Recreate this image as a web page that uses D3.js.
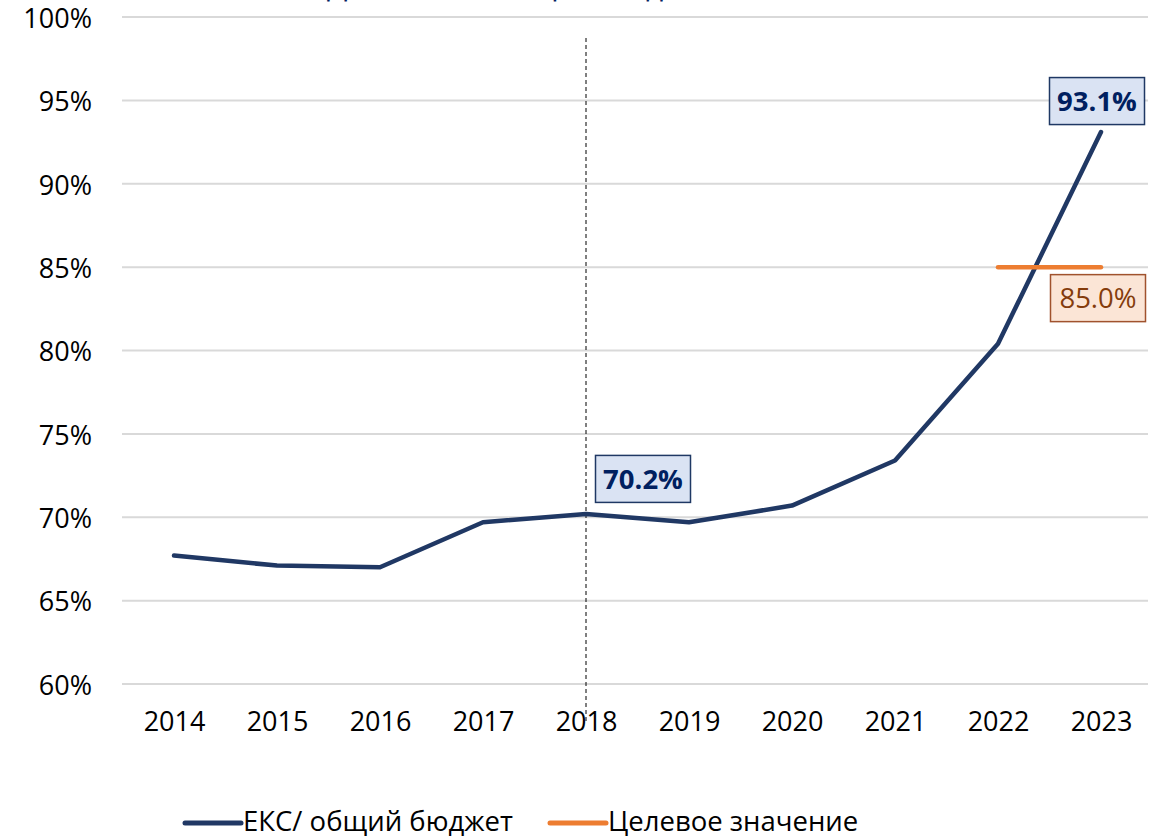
<!DOCTYPE html>
<html><head><meta charset="utf-8">
<script src="https://cdn.jsdelivr.net/npm/d3@7"></script>
<style>body{margin:0;background:#fff}svg{display:block}text{font-family:"Open Sans",sans-serif}</style>
</head><body>
<script>
const years = ["2014","2015","2016","2017","2018","2019","2020","2021","2022","2023"];
const eksShare = [67.7, 67.1, 67.0, 69.7, 70.2, 69.7, 70.7, 73.4, 80.4, 93.1];
const targetYears = ["2022","2023"];
const targetValues = [85.0, 85.0];
const yTicks = [60,65,70,75,80,85,90,95,100];
const seriesNames = ["ЕКС/ общий бюджет","Целевое значение"];
const titleText = "Доля ЕКС в общем бюджете";

const W=1164,H=839;
const svg=d3.select("body").append("svg").attr("width",W).attr("height",H);
const x=d3.scalePoint().domain(years).range([174,1101]);
const y=d3.scaleLinear().domain([60,100]).range([684,17]);
const navy="#203864", orange="#ed7d31";

// title (mostly outside top edge, as in the reference)
svg.append("text").attr("x",530).attr("y",-4).attr("text-anchor","middle")
  .attr("font-size",30).attr("font-weight","normal").attr("fill","#002060").text(titleText);

// gridlines
svg.append("g").selectAll("line").data(yTicks).join("line")
  .attr("x1",122).attr("x2",1148).attr("y1",d=>y(d)).attr("y2",d=>y(d))
  .attr("stroke","#d9d9d9").attr("stroke-width",2);

// y axis
const ya=svg.append("g").attr("transform","translate(92,0)")
  .call(d3.axisLeft(y).tickValues(yTicks).tickFormat(d=>d+"%").tickSize(0).tickPadding(0));
ya.select(".domain").remove();
ya.selectAll("text").attr("font-size",27).attr("fill","#000").attr("font-family","Open Sans, sans-serif").attr("dy","0.38em");

// x axis
const xa=svg.append("g").attr("transform","translate(0,722)")
  .call(d3.axisBottom(x).tickSize(0).tickPadding(0));
xa.select(".domain").remove();
xa.selectAll("text").attr("font-size",27).attr("fill","#000").attr("font-family","Open Sans, sans-serif").attr("dy","0.35em");

// dashed vertical at 2018
svg.append("line").attr("x1",x("2018")).attr("x2",x("2018")).attr("y1",38).attr("y2",722)
  .attr("stroke","#000").attr("stroke-width",1).attr("stroke-dasharray","4,3");

// main line
const line=d3.line().x(d=>x(d[0])).y(d=>y(d[1]));
svg.append("path").datum(years.map((yr,i)=>[yr,eksShare[i]])).attr("d",line)
  .attr("fill","none").attr("stroke",navy).attr("stroke-width",4.5)
  .attr("stroke-linecap","round").attr("stroke-linejoin","round");

// target line
svg.append("path").datum(targetYears.map((yr,i)=>[yr,targetValues[i]])).attr("d",line)
  .attr("fill","none").attr("stroke",orange).attr("stroke-width",4.5).attr("stroke-linecap","round");

// labels
function label(cx,cy,txt,fill,stroke,color,bold){
  const g=svg.append("g");
  g.append("rect").attr("x",cx-47.5).attr("y",cy-23.5).attr("width",95).attr("height",47)
    .attr("fill",fill).attr("stroke",stroke).attr("stroke-width",1.5);
  g.append("text").attr("x",cx).attr("y",cy).attr("dy","0.36em").attr("text-anchor","middle")
    .attr("font-size",27.5).attr("font-weight",bold?"bold":"normal").attr("fill",color).text(txt);
}
label(x("2018")+57,y(eksShare[4])-35,eksShare[4].toFixed(1)+"%","#dae3f3","#1f3864","#002060",true);
label(x("2023")-4,y(eksShare[9])-31,eksShare[9].toFixed(1)+"%","#dae3f3","#1f3864","#002060",true);
label(x("2023")-3,y(targetValues[1])+31,targetValues[1].toFixed(1)+"%","#fbe5d6","#a0522d","#843c0c",false);

// legend
const lg=svg.append("g");
[[185,navy,seriesNames[0]],[550,orange,seriesNames[1]]].forEach(([lx,c,t])=>{
  lg.append("line").attr("x1",lx).attr("x2",lx+56).attr("y1",823).attr("y2",823)
    .attr("stroke",c).attr("stroke-width",5).attr("stroke-linecap","round");
  lg.append("text").attr("x",lx+58).attr("y",821).attr("dy","0.35em").attr("font-size",27.5).attr("fill","#000").text(t);
});
</script>
</body></html>
